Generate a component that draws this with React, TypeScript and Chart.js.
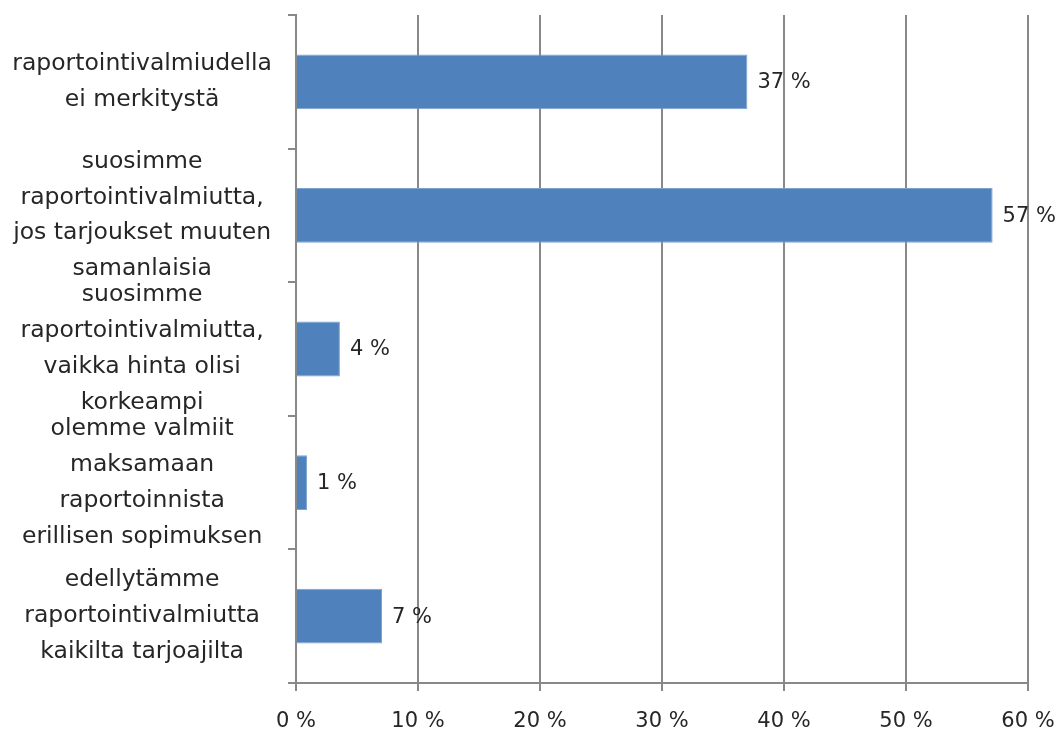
import React, { useEffect, useRef } from "react";
import { Chart, registerables } from "chart.js";

Chart.register(...registerables);

const categories: string[][] = [
  ["raportointivalmiudella", "ei merkitystä"],
  ["suosimme", "raportointivalmiutta,", "jos tarjoukset muuten", "samanlaisia"],
  ["suosimme", "raportointivalmiutta,", "vaikka hinta olisi", "korkeampi"],
  ["olemme valmiit", "maksamaan", "raportoinnista", "erillisen sopimuksen"],
  ["edellytämme", "raportointivalmiutta", "kaikilta tarjoajilta"],
];

const values: number[] = [37, 57.1, 3.6, 0.9, 7.05];
const valueLabels: string[] = ["37 %", "57 %", "4 %", "1 %", "7 %"];

const xMin = 0;
const xMax = 60;
const xStep = 10;

const FONT = "'DejaVu Sans', sans-serif";
const TEXT = "#262626";
const GRID = "#888888";

const dataLabelPlugin = {
  id: "barValueLabels",
  afterDatasetsDraw(chart: any) {
    const ctx = chart.ctx;
    const meta = chart.getDatasetMeta(0);
    ctx.save();
    ctx.font = `21px ${FONT}`;
    ctx.fillStyle = TEXT;
    ctx.textAlign = "left";
    ctx.textBaseline = "middle";
    meta.data.forEach((bar: any, i: number) => {
      ctx.fillText(valueLabels[i], bar.x + 10, bar.y + 1);
    });
    ctx.restore();
  },
};

export default function App() {
  const ref = useRef<HTMLCanvasElement | null>(null);

  useEffect(() => {
    if (!ref.current) return;
    const chart = new Chart(ref.current, {
      type: "bar",
      data: {
        labels: categories,
        datasets: [
          {
            data: values,
            backgroundColor: "#4F81BD",
            borderColor: "#7EA3D1",
            borderWidth: 1,
            categoryPercentage: 1,
            barPercentage: 0.41,
          },
        ],
      },
      options: {
        indexAxis: "y",
        animation: false,
        responsive: false,
        layout: { padding: { left: 0, top: 15, right: 30, bottom: 0 } },
        plugins: {
          legend: { display: false },
          tooltip: { enabled: false },
        },
        scales: {
          x: {
            min: xMin,
            max: xMax,
            ticks: {
              stepSize: xStep,
              font: { family: FONT, size: 21 },
              color: TEXT,
              padding: 18,
              maxRotation: 0,
              autoSkip: false,
              callback: (v: any) => `${v} %`,
            },
            grid: {
              color: GRID,
              lineWidth: 2,
              drawTicks: true,
              tickLength: 8,
            },
            border: { color: GRID, width: 2 },
            afterFit: (scale: any) => {
              scale.height = 50;
              scale.paddingLeft = 0;
              scale.paddingRight = 0;
            },
          },
          y: {
            ticks: {
              font: { family: FONT, size: 23.5, lineHeight: 1.53 },
              color: TEXT,
              crossAlign: "center",
              padding: 16,
              autoSkip: false,
            },
            grid: {
              offset: true,
              drawOnChartArea: false,
              drawTicks: true,
              tickLength: 8,
              color: GRID,
              lineWidth: 2,
            },
            border: { color: GRID, width: 2 },
            afterFit: (scale: any) => {
              scale.width = 296;
              scale.paddingTop = 0;
              scale.paddingBottom = 0;
            },
          },
        },
      },
      plugins: [dataLabelPlugin],
    } as any);
    return () => chart.destroy();
  }, []);

  return (
    <div style={{ position: "absolute", left: 0, top: 0, width: 1058, height: 733, background: "#fff" }}>
      <canvas ref={ref} width={1058} height={733} style={{ display: "block" }} />
    </div>
  );
}
